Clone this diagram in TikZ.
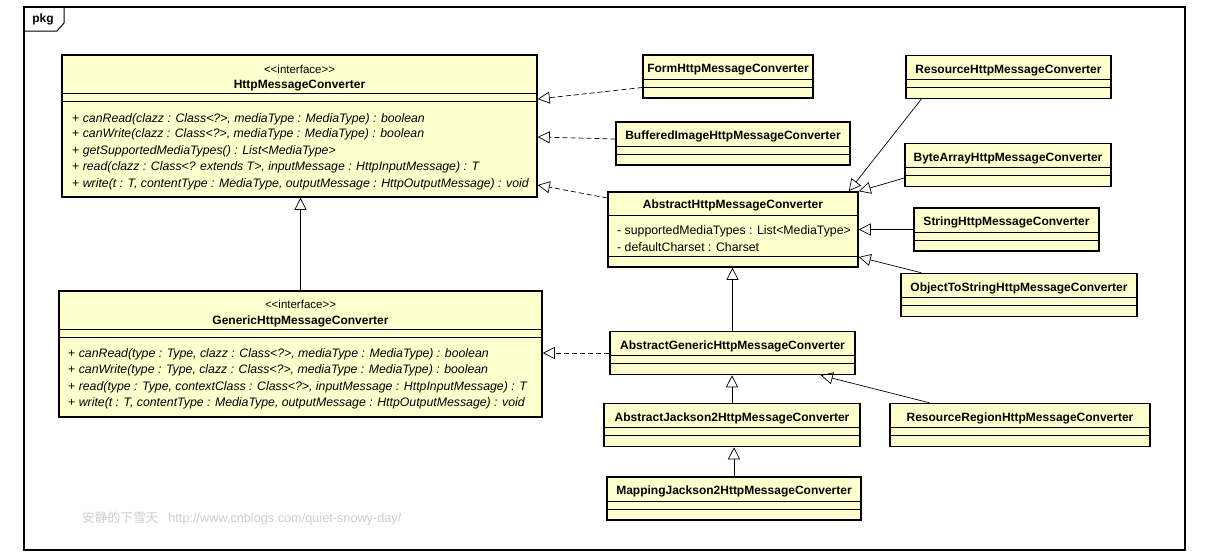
\documentclass[tikz,border=0pt]{standalone}
\usepackage{fontspec}
\setmainfont{Liberation Sans}
\newfontfamily\cjkfont{Noto Sans CJK SC}
\usepackage{xcolor}
\usetikzlibrary{arrows.meta, positioning}
\definecolor{umlyellow}{RGB}{255,255,206}
\definecolor{markgray}{RGB}{205,205,205}

\begin{document}
\begin{tikzpicture}[x=1pt, y=-1pt,
    cls/.style={draw, fill=umlyellow, line width=1.5pt, inner sep=0pt},
    cname/.style={font=\fontsize{12}{13}\selectfont\bfseries, inner sep=0pt, yshift=-1.5pt},
    stereo/.style={font=\fontsize{11.5}{13}\selectfont, inner sep=0pt, yshift=-1pt},
    meth/.style={font=\fontsize{12.3}{13}\selectfont, anchor=west, inner sep=0pt, yshift=-1pt},
    sep/.style={line width=0.8pt},
    gen/.style={-{Triangle[open, length=12pt, width=12pt]}, line width=0.7pt},
    real/.style={gen, dash pattern=on 5pt off 3pt}]
\useasboundingbox (0,0) rectangle (1222,557);

% package frame
\draw[line width=1.3pt] (24,7) rectangle (1185,550);
\draw[line width=1pt] (64,7) -- (64,23) -- (57,31) -- (24,31);
\node[font=\fontsize{12}{13}\selectfont\bfseries] (pkg) at (43,19.5) {pkg};

% interfaces
\node[cls, minimum width=475pt, minimum height=142pt] (hmc) at (299.5,126) {};
\node[stereo] at (hmc.north |- 0,68) {{<}{<}interface{>}{>}};
\node[cname] at (hmc.north |- 0,84) {HttpMessageConverter};
\draw[sep] (hmc.west |- 0,93) -- (hmc.east |- 0,93);
\draw[sep] (hmc.west |- 0,101) -- (hmc.east |- 0,101);
\foreach \y/\t in {118/{canRead(clazz : Class<?>, mediaType : MediaType) : boolean},
    133/{canWrite(clazz : Class<?>, mediaType : MediaType) : boolean},
    150/{getSupportedMediaTypes() : List<MediaType>},
    166/{read(clazz : Class<? extends T>, inputMessage : HttpInputMessage) : T},
    183/{write(t : T, contentType : MediaType, outputMessage : HttpOutputMessage) : void}}
    \node[meth] at (72,\y) {+ \textit{\t}};

\node[cls, minimum width=483pt, minimum height=126pt] (generic) at (300.5,354) {};
\node[stereo] at (generic.north |- 0,303) {{<}{<}interface{>}{>}};
\node[cname] at (generic.north |- 0,320) {GenericHttpMessageConverter};
\draw[sep] (generic.west |- 0,329) -- (generic.east |- 0,329);
\draw[sep] (generic.west |- 0,337) -- (generic.east |- 0,337);
\foreach \y/\t in {353/{canRead(type : Type, clazz : Class<?>, mediaType : MediaType) : boolean},
    369/{canWrite(type : Type, clazz : Class<?>, mediaType : MediaType) : boolean},
    386/{read(type : Type, contextClass : Class<?>, inputMessage : HttpInputMessage) : T},
    402/{write(t : T, contentType : MediaType, outputMessage : HttpOutputMessage) : void}}
    \node[meth] at (68,\y) {+ \textit{\t}};

% abstract base class with attributes
\node[cls, minimum width=250pt, minimum height=75pt] (ahmc) at (733,229.5) {};
\node[cname] at ([yshift=-13pt]ahmc.north) {AbstractHttpMessageConverter};
\draw[sep] ([yshift=-24pt]ahmc.north west) -- ([yshift=-24pt]ahmc.north east);
\node[meth] at (617,230) {- supportedMediaTypes : List<MediaType>};
\node[meth] at (617,246) {- defaultCharset : Charset};
\draw[sep] ([yshift=11pt]ahmc.south west) -- ([yshift=11pt]ahmc.south east);

% plain classes
\foreach \n/\cx/\cy/\w/\t in {form/728/76.5/170/FormHttpMessageConverter,
    buffered/733/143.5/234/BufferedImageHttpMessageConverter,
    resource/1008.5/77/205/ResourceHttpMessageConverter,
    bytearray/1008/165/206/ByteArrayHttpMessageConverter,
    string/1006.5/229.5/185/StringHttpMessageConverter,
    objstring/1019/295/236/ObjectToStringHttpMessageConverter,
    absgeneric/732.5/353/245/AbstractGenericHttpMessageConverter,
    absjackson/732/425/256/AbstractJackson2HttpMessageConverter,
    resregion/1020/425/260/ResourceRegionHttpMessageConverter,
    mapping/734/498.5/254/MappingJackson2HttpMessageConverter}
{
    \node[cls, minimum width=\w pt, minimum height=43pt] (\n) at (\cx,\cy) {};
    \node[cname] at ([yshift=-14pt]\n.north) {\t};
    \draw[sep] ([yshift=-25pt]\n.north west) -- ([yshift=-25pt]\n.north east);
    \draw[sep] ([yshift=-33pt]\n.north west) -- ([yshift=-33pt]\n.north east);
}

% realizations
\draw[real] ([yshift=-11pt]form.west) -- ([yshift=27pt]hmc.east);
\draw[real] ([yshift=4.5pt]buffered.west) -- ([yshift=-11pt]hmc.east);
\draw[real] ([yshift=31.5pt]ahmc.west) -- ([yshift=-59pt]hmc.east);
\draw[real] (absgeneric.west) -- (absgeneric.west -| generic.east);

% generalizations
\draw[gen] (generic.north) -- (generic.north |- hmc.south);
\draw[gen] ([xshift=16pt]resource.south west) -- ([xshift=-10pt]ahmc.north east);
\draw[gen] ([yshift=-13pt]bytearray.west) -- (ahmc.north east);
\draw[gen] (string.west) -- (ahmc.east);
\draw[gen] ([xshift=21pt]objstring.north west) -- ([yshift=-27.5pt]ahmc.east);
\draw[gen] (absgeneric.north) -- (absgeneric.north |- ahmc.south);
\draw[gen] (absjackson.north) -- (absjackson.north |- absgeneric.south);
\draw[gen] ([xshift=40pt]resregion.north west) -- ([xshift=-35pt]absgeneric.south east);
\draw[gen] (mapping.north) -- (mapping.north |- absjackson.south);

% watermark
\node[anchor=west, text=markgray, font=\fontsize{12.7}{14}\selectfont, inner sep=0pt] (mark) at (82,518)
    {{\cjkfont 安静的下雪天}\hspace{10pt}http://www.cnblogs.com/quiet-snowy-day/};
\end{tikzpicture}
\end{document}
